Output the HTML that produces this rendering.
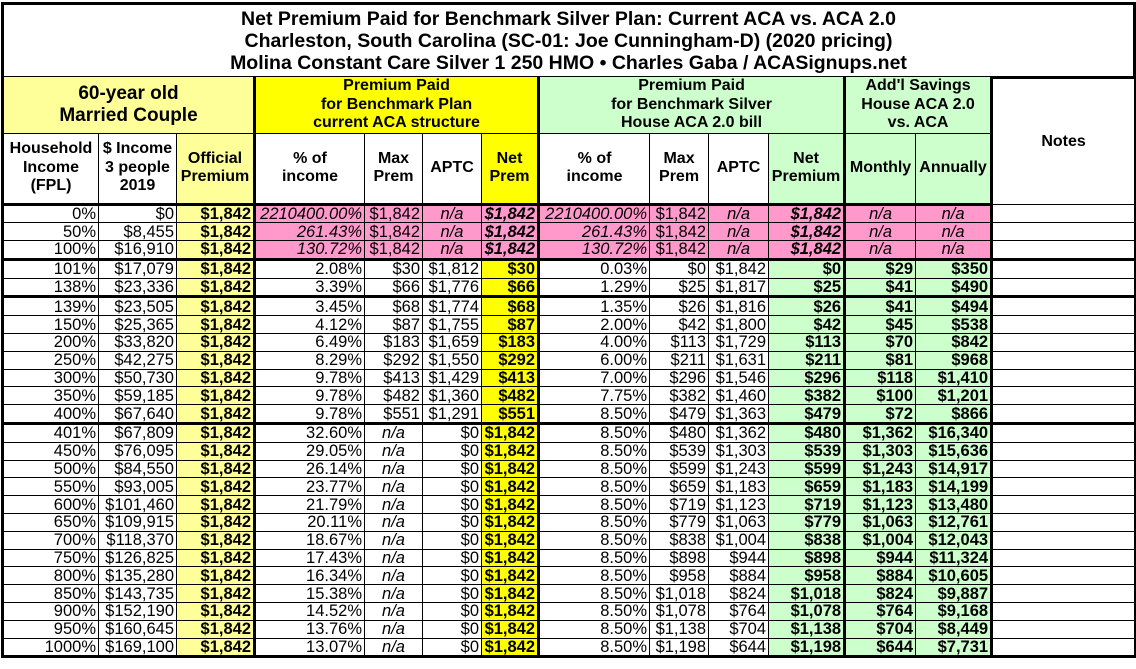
<!DOCTYPE html>
<html><head><meta charset="utf-8"><style>
body{margin:0;width:1136px;height:669px;background:#fff;position:relative;overflow:hidden;font-family:"Liberation Sans",Arial,sans-serif;}
#title{position:absolute;left:1px;top:2px;width:1129px;height:68px;border:3px solid #000;text-align:center;font-weight:bold;font-size:19.5px;line-height:22px;padding-top:3px;box-sizing:content-box;}
table{position:absolute;left:1px;top:77px;border-collapse:collapse;table-layout:fixed;width:1133px;}
td{border:1px solid #000;padding:0 2px;white-space:nowrap;overflow:hidden;font-size:16.5px;line-height:16px;text-align:right;}
tr.d td{height:16.8px;}
.h td{text-align:center;font-weight:bold;font-size:16px;line-height:18.5px;vertical-align:middle;}
.ly{background:#ffff99}.y{background:#ffff00}.g{background:#ccffcc}.p{background:#ff99cc}
.b{font-weight:bold}.i{font-style:italic}.c{text-align:center}
.L{border-left:3px solid #000}.R{border-right:3px solid #000}
tr.B td{border-bottom:3px solid #000}
tr.top td{border-top:none}
</style></head><body>
<div id="title">Net Premium Paid for Benchmark Silver Plan: Current ACA vs. ACA 2.0<br>Charleston, South Carolina (SC-01: Joe Cunningham-D) (2020 pricing)<br>Molina Constant Care Silver 1 250 HMO • Charles Gaba / ACASignups.net</div>
<table>
<colgroup><col style="width:96px"><col style="width:78px"><col style="width:78px"><col style="width:110px"><col style="width:58px"><col style="width:59px"><col style="width:57px"><col style="width:111px"><col style="width:59px"><col style="width:60px"><col style="width:76px"><col style="width:71px"><col style="width:76px"><col style="width:144px"></colgroup>
<tr class="h top" style="height:54px"><td colspan="3" class="ly L R" style="font-size:19px;line-height:22px">60-year old<br>Married Couple</td><td colspan="4" class="y R">Premium Paid<br>for Benchmark Plan<br>current ACA structure</td><td colspan="4" class="g R">Premium Paid<br>for Benchmark Silver<br>House ACA 2.0 bill</td><td colspan="2" class="g R">Add'l Savings<br>House ACA 2.0<br>vs. ACA</td><td rowspan="2" class="R" style="vertical-align:top;padding-top:56px">Notes</td></tr>
<tr class="h B" style="height:71px"><td class="L">Household<br>Income<br>(FPL)</td><td>$ Income<br>3 people<br>2019</td><td class="ly R">Official<br>Premium</td><td>% of<br>income</td><td>Max<br>Prem</td><td>APTC</td><td class="y R">Net<br>Prem</td><td>% of<br>income</td><td>Max<br>Prem</td><td>APTC</td><td class="g R">Net<br>Premium</td><td class="g">Monthly</td><td class="g R">Annually</td></tr>
<tr class="d"><td class="L">0%</td><td>$0</td><td class="ly b R">$1,842</td><td class="p i">2210400.00%</td><td class="p">$1,842</td><td class="p i c">n/a</td><td class="p b i R">$1,842</td><td class="p i">2210400.00%</td><td class="p">$1,842</td><td class="p i c">n/a</td><td class="p b i R">$1,842</td><td class="p i c">n/a</td><td class="p i c R">n/a</td><td class="R"></td></tr>
<tr class="d"><td class="L">50%</td><td>$8,455</td><td class="ly b R">$1,842</td><td class="p i">261.43%</td><td class="p">$1,842</td><td class="p i c">n/a</td><td class="p b i R">$1,842</td><td class="p i">261.43%</td><td class="p">$1,842</td><td class="p i c">n/a</td><td class="p b i R">$1,842</td><td class="p i c">n/a</td><td class="p i c R">n/a</td><td class="R"></td></tr>
<tr class="d B"><td class="L">100%</td><td>$16,910</td><td class="ly b R">$1,842</td><td class="p i">130.72%</td><td class="p">$1,842</td><td class="p i c">n/a</td><td class="p b i R">$1,842</td><td class="p i">130.72%</td><td class="p">$1,842</td><td class="p i c">n/a</td><td class="p b i R">$1,842</td><td class="p i c">n/a</td><td class="p i c R">n/a</td><td class="R"></td></tr>
<tr class="d"><td class="L">101%</td><td>$17,079</td><td class="ly b R">$1,842</td><td>2.08%</td><td>$30</td><td>$1,812</td><td class="y b R">$30</td><td>0.03%</td><td>$0</td><td>$1,842</td><td class="g b R">$0</td><td class="g b">$29</td><td class="g b R">$350</td><td class="R"></td></tr>
<tr class="d B"><td class="L">138%</td><td>$23,336</td><td class="ly b R">$1,842</td><td>3.39%</td><td>$66</td><td>$1,776</td><td class="y b R">$66</td><td>1.29%</td><td>$25</td><td>$1,817</td><td class="g b R">$25</td><td class="g b">$41</td><td class="g b R">$490</td><td class="R"></td></tr>
<tr class="d"><td class="L">139%</td><td>$23,505</td><td class="ly b R">$1,842</td><td>3.45%</td><td>$68</td><td>$1,774</td><td class="y b R">$68</td><td>1.35%</td><td>$26</td><td>$1,816</td><td class="g b R">$26</td><td class="g b">$41</td><td class="g b R">$494</td><td class="R"></td></tr>
<tr class="d"><td class="L">150%</td><td>$25,365</td><td class="ly b R">$1,842</td><td>4.12%</td><td>$87</td><td>$1,755</td><td class="y b R">$87</td><td>2.00%</td><td>$42</td><td>$1,800</td><td class="g b R">$42</td><td class="g b">$45</td><td class="g b R">$538</td><td class="R"></td></tr>
<tr class="d"><td class="L">200%</td><td>$33,820</td><td class="ly b R">$1,842</td><td>6.49%</td><td>$183</td><td>$1,659</td><td class="y b R">$183</td><td>4.00%</td><td>$113</td><td>$1,729</td><td class="g b R">$113</td><td class="g b">$70</td><td class="g b R">$842</td><td class="R"></td></tr>
<tr class="d"><td class="L">250%</td><td>$42,275</td><td class="ly b R">$1,842</td><td>8.29%</td><td>$292</td><td>$1,550</td><td class="y b R">$292</td><td>6.00%</td><td>$211</td><td>$1,631</td><td class="g b R">$211</td><td class="g b">$81</td><td class="g b R">$968</td><td class="R"></td></tr>
<tr class="d"><td class="L">300%</td><td>$50,730</td><td class="ly b R">$1,842</td><td>9.78%</td><td>$413</td><td>$1,429</td><td class="y b R">$413</td><td>7.00%</td><td>$296</td><td>$1,546</td><td class="g b R">$296</td><td class="g b">$118</td><td class="g b R">$1,410</td><td class="R"></td></tr>
<tr class="d"><td class="L">350%</td><td>$59,185</td><td class="ly b R">$1,842</td><td>9.78%</td><td>$482</td><td>$1,360</td><td class="y b R">$482</td><td>7.75%</td><td>$382</td><td>$1,460</td><td class="g b R">$382</td><td class="g b">$100</td><td class="g b R">$1,201</td><td class="R"></td></tr>
<tr class="d B"><td class="L">400%</td><td>$67,640</td><td class="ly b R">$1,842</td><td>9.78%</td><td>$551</td><td>$1,291</td><td class="y b R">$551</td><td>8.50%</td><td>$479</td><td>$1,363</td><td class="g b R">$479</td><td class="g b">$72</td><td class="g b R">$866</td><td class="R"></td></tr>
<tr class="d"><td class="L">401%</td><td>$67,809</td><td class="ly b R">$1,842</td><td>32.60%</td><td class="i c">n/a</td><td>$0</td><td class="y b R">$1,842</td><td>8.50%</td><td>$480</td><td>$1,362</td><td class="g b R">$480</td><td class="g b">$1,362</td><td class="g b R">$16,340</td><td class="R"></td></tr>
<tr class="d"><td class="L">450%</td><td>$76,095</td><td class="ly b R">$1,842</td><td>29.05%</td><td class="i c">n/a</td><td>$0</td><td class="y b R">$1,842</td><td>8.50%</td><td>$539</td><td>$1,303</td><td class="g b R">$539</td><td class="g b">$1,303</td><td class="g b R">$15,636</td><td class="R"></td></tr>
<tr class="d"><td class="L">500%</td><td>$84,550</td><td class="ly b R">$1,842</td><td>26.14%</td><td class="i c">n/a</td><td>$0</td><td class="y b R">$1,842</td><td>8.50%</td><td>$599</td><td>$1,243</td><td class="g b R">$599</td><td class="g b">$1,243</td><td class="g b R">$14,917</td><td class="R"></td></tr>
<tr class="d"><td class="L">550%</td><td>$93,005</td><td class="ly b R">$1,842</td><td>23.77%</td><td class="i c">n/a</td><td>$0</td><td class="y b R">$1,842</td><td>8.50%</td><td>$659</td><td>$1,183</td><td class="g b R">$659</td><td class="g b">$1,183</td><td class="g b R">$14,199</td><td class="R"></td></tr>
<tr class="d"><td class="L">600%</td><td>$101,460</td><td class="ly b R">$1,842</td><td>21.79%</td><td class="i c">n/a</td><td>$0</td><td class="y b R">$1,842</td><td>8.50%</td><td>$719</td><td>$1,123</td><td class="g b R">$719</td><td class="g b">$1,123</td><td class="g b R">$13,480</td><td class="R"></td></tr>
<tr class="d"><td class="L">650%</td><td>$109,915</td><td class="ly b R">$1,842</td><td>20.11%</td><td class="i c">n/a</td><td>$0</td><td class="y b R">$1,842</td><td>8.50%</td><td>$779</td><td>$1,063</td><td class="g b R">$779</td><td class="g b">$1,063</td><td class="g b R">$12,761</td><td class="R"></td></tr>
<tr class="d"><td class="L">700%</td><td>$118,370</td><td class="ly b R">$1,842</td><td>18.67%</td><td class="i c">n/a</td><td>$0</td><td class="y b R">$1,842</td><td>8.50%</td><td>$838</td><td>$1,004</td><td class="g b R">$838</td><td class="g b">$1,004</td><td class="g b R">$12,043</td><td class="R"></td></tr>
<tr class="d"><td class="L">750%</td><td>$126,825</td><td class="ly b R">$1,842</td><td>17.43%</td><td class="i c">n/a</td><td>$0</td><td class="y b R">$1,842</td><td>8.50%</td><td>$898</td><td>$944</td><td class="g b R">$898</td><td class="g b">$944</td><td class="g b R">$11,324</td><td class="R"></td></tr>
<tr class="d"><td class="L">800%</td><td>$135,280</td><td class="ly b R">$1,842</td><td>16.34%</td><td class="i c">n/a</td><td>$0</td><td class="y b R">$1,842</td><td>8.50%</td><td>$958</td><td>$884</td><td class="g b R">$958</td><td class="g b">$884</td><td class="g b R">$10,605</td><td class="R"></td></tr>
<tr class="d"><td class="L">850%</td><td>$143,735</td><td class="ly b R">$1,842</td><td>15.38%</td><td class="i c">n/a</td><td>$0</td><td class="y b R">$1,842</td><td>8.50%</td><td>$1,018</td><td>$824</td><td class="g b R">$1,018</td><td class="g b">$824</td><td class="g b R">$9,887</td><td class="R"></td></tr>
<tr class="d"><td class="L">900%</td><td>$152,190</td><td class="ly b R">$1,842</td><td>14.52%</td><td class="i c">n/a</td><td>$0</td><td class="y b R">$1,842</td><td>8.50%</td><td>$1,078</td><td>$764</td><td class="g b R">$1,078</td><td class="g b">$764</td><td class="g b R">$9,168</td><td class="R"></td></tr>
<tr class="d"><td class="L">950%</td><td>$160,645</td><td class="ly b R">$1,842</td><td>13.76%</td><td class="i c">n/a</td><td>$0</td><td class="y b R">$1,842</td><td>8.50%</td><td>$1,138</td><td>$704</td><td class="g b R">$1,138</td><td class="g b">$704</td><td class="g b R">$8,449</td><td class="R"></td></tr>
<tr class="d B"><td class="L">1000%</td><td>$169,100</td><td class="ly b R">$1,842</td><td>13.07%</td><td class="i c">n/a</td><td>$0</td><td class="y b R">$1,842</td><td>8.50%</td><td>$1,198</td><td>$644</td><td class="g b R">$1,198</td><td class="g b">$644</td><td class="g b R">$7,731</td><td class="R"></td></tr>
</table>
</body></html>
